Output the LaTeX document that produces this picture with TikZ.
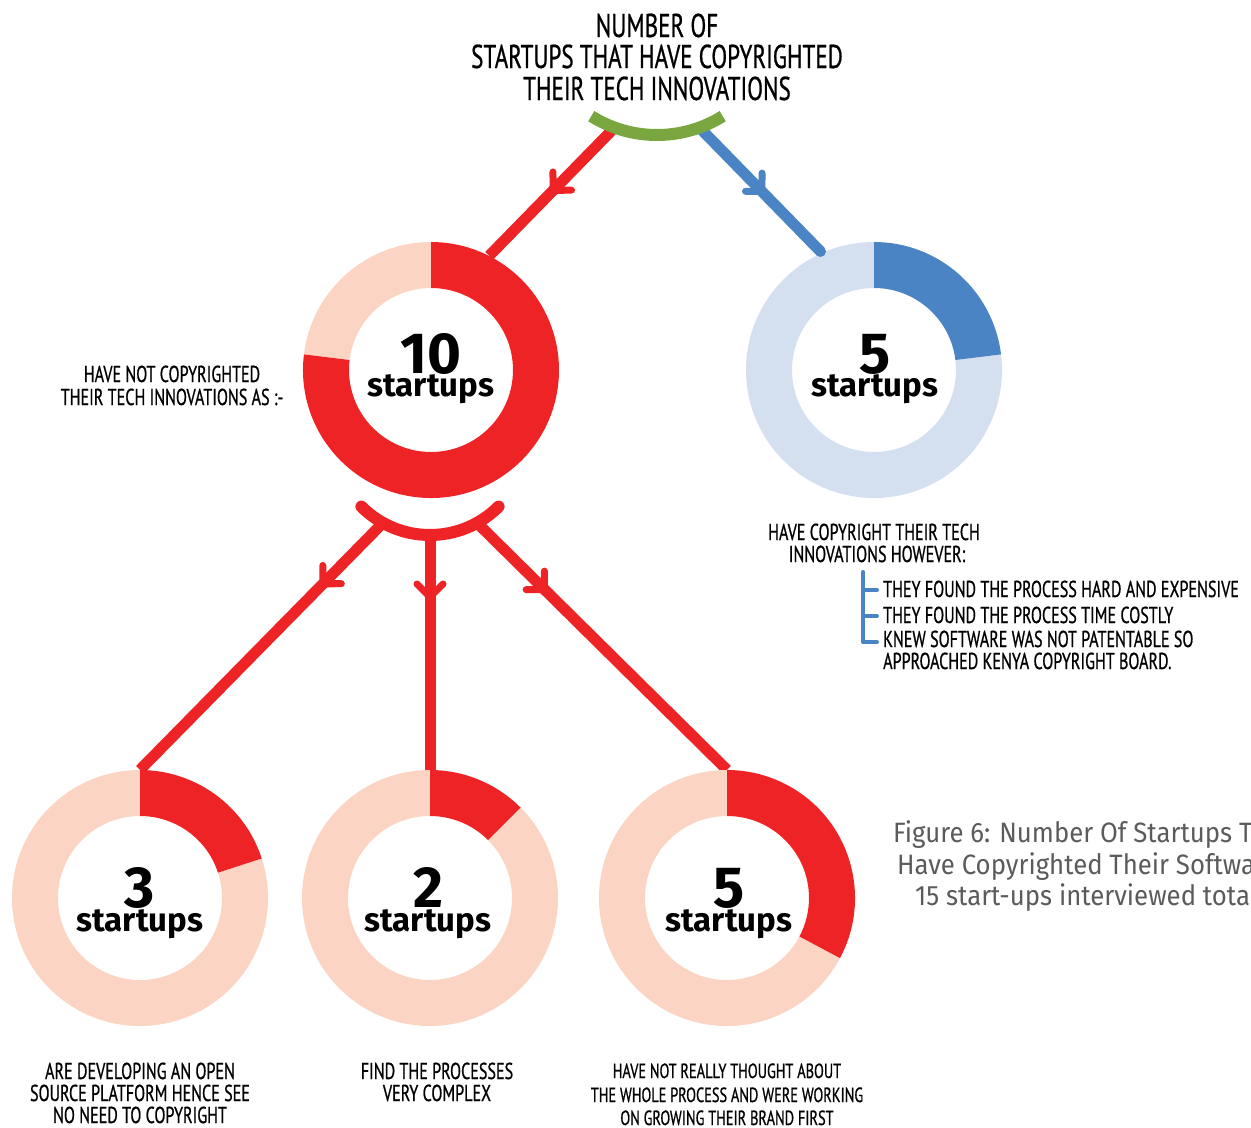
\documentclass[tikz,border=0pt]{standalone}
\usepackage{fontspec}
\usetikzlibrary{decorations.markings}
\setmainfont{PT Sans}
\newfontfamily\condfont[FakeStretch=0.70, FakeBold=0.7]{PT Sans}
\newfontfamily\numfont{Fira Sans}
\newfontfamily\captfont[FakeStretch=0.92]{Fira Sans}
\definecolor{ired}{HTML}{EE2326}
\definecolor{isalmon}{HTML}{FBD4C3}
\definecolor{iblue}{HTML}{4A84C4}
\definecolor{ilblue}{HTML}{D4DFF0}
\definecolor{igreen}{HTML}{7AA640}
\definecolor{igray}{HTML}{5A5B5D}

% annular sector: node, start angle, end angle, colour
\newcommand\ringpart[4]{\fill[#4, shift={(#1.center)}] (#2:128) arc[start angle=#2, end angle=#3, radius=128] -- (#3:82) arc[start angle=#3, end angle=#2, radius=82] -- cycle;}

\tikzset{
  ring/.style={circle, minimum size=256bp, inner sep=0pt},
  link/.style={line width=11bp},
  midtick/.style n args={2}{postaction={decorate, decoration={markings, mark=at position #1 with {\draw[#2, line width=7bp, line cap=round, line join=round] (-13,13) -- (0,0) -- (-13,-13);}}}},
  headline/.style={font=\condfont\fontsize{33bp}{33bp}\selectfont, inner sep=0pt, anchor=base},
  lbl/.style={font=\condfont\fontsize{23bp}{23bp}\selectfont, inner sep=0pt, anchor=base},
  smlbl/.style={font=\condfont\fontsize{20.5bp}{20.5bp}\selectfont, inner sep=0pt, anchor=base},
  bigno/.style={font=\numfont\bfseries\fontsize{58bp}{58bp}\selectfont, inner sep=0pt, anchor=base},
  unitword/.style={font=\numfont\bfseries\fontsize{33bp}{33bp}\selectfont, inner sep=0pt, anchor=base},
  capt/.style={font=\captfont\fontsize{28bp}{28bp}\selectfont, text=igray, inner sep=0pt, anchor=base west},
}

\begin{document}
\begin{tikzpicture}[x=1bp,y=1bp]
\useasboundingbox (0,0) rectangle (1251,-1128);

% donut placeholders
\node[ring] (c1) at (431,-370) {};
\node[ring] (c2) at (874,-370) {};
\node[ring] (cA) at (140,-898) {};
\node[ring] (cB) at (430,-898) {};
\node[ring] (cC) at (727,-898) {};

% centres of the two connector arcs
\coordinate (g0) at (657,-11);
\coordinate (h0) at (430,-438);
\path (g0) ++(-110:124) coordinate (gr);
\path (g0) ++(-70:124) coordinate (gb);
\path (h0) ++(-119:97) coordinate (hl);
\path (h0) ++(-90:97) coordinate (hm);
\path (h0) ++(-61:97) coordinate (hr);

% red connectors
\draw[link, ired, midtick={0.49}{ired}] (gr) -- (c1.63);
\draw[link, ired, midtick={0.247}{ired}] (hl) -- (cA.90);
\draw[link, ired, midtick={0.264}{ired}] (hm) -- (cB.90);
\draw[link, ired, midtick={0.27}{ired}] (hr) -- (cC.90);

% donuts
\ringpart{c1}{90}{173}{isalmon}
\ringpart{c1}{-187}{90}{ired}
\ringpart{c2}{90}{367}{ilblue}
\ringpart{c2}{7}{90}{iblue}
\ringpart{cA}{90}{378}{isalmon}
\ringpart{cA}{18}{90}{ired}
\ringpart{cB}{90}{405}{isalmon}
\ringpart{cB}{45}{90}{ired}
\ringpart{cC}{90}{332}{isalmon}
\ringpart{cC}{-28}{90}{ired}

% blue connector
\draw[link, iblue, line cap=round, shorten >=2bp, midtick={0.51}{iblue}] (gb) -- (c2.114);

% arcs
\draw[igreen, line width=12bp] (g0) ++(-122:124) arc[start angle=-122, end angle=-58, radius=124];
\draw[ired, line width=12bp, line cap=round] (h0) ++(-135:97) arc[start angle=-135, end angle=-45, radius=97];

% bracket
\draw[iblue, line width=4bp, line cap=round, line join=round] (863,-572) -- (863,-642) -- (877,-642);
\draw[iblue, line width=4bp, line cap=round] (863,-590) -- (877,-590);
\draw[iblue, line width=4bp, line cap=round] (863,-616) -- (877,-616);

% headline
\node[headline] (t1) at (657,-37) {NUMBER OF};
\node[headline] (t2) at (657,-68) {STARTUPS THAT HAVE COPYRIGHTED};
\node[headline] (t3) at (657,-100) {THEIR TECH INNOVATIONS};

% counts
\node[bigno] (n1) at (431,-373) {10};
\node[unitword] (u1) at (431,-396) {startups};
\node[bigno] (n2) at (875,-373) {5};
\node[unitword] (u2) at (875,-396) {startups};
\node[bigno] (nA) at (140,-907) {3};
\node[unitword] (uA) at (140,-931) {startups};
\node[bigno] (nB) at (428,-907) {2};
\node[unitword] (uB) at (428,-931) {startups};
\node[bigno] (nC) at (729,-907) {5};
\node[unitword] (uC) at (729,-931) {startups};

% side labels
\node[lbl] (l1) at (172,-382) {HAVE NOT COPYRIGHTED};
\node[lbl] (l2) at (172,-405) {THEIR TECH INNOVATIONS AS :-};
\node[lbl] (b1) at (874,-540) {HAVE COPYRIGHT THEIR TECH};
\node[lbl] (b2) at (877,-562) {INNOVATIONS HOWEVER:};
\node[lbl, anchor=base west] (r1) at (883,-597) {THEY FOUND THE PROCESS HARD AND EXPENSIVE};
\node[lbl, anchor=base west] (r2) at (883,-623) {THEY FOUND THE PROCESS TIME COSTLY};
\node[lbl, anchor=base west] (r3) at (883,-647) {KNEW SOFTWARE WAS NOT PATENTABLE SO};
\node[lbl, anchor=base west] (r4) at (883,-669) {APPROACHED KENYA COPYRIGHT BOARD.};

% bottom labels
\node[lbl] (a1) at (140,-1079) {ARE DEVELOPING AN OPEN};
\node[lbl] (a2) at (140,-1101) {SOURCE PLATFORM HENCE SEE};
\node[lbl] (a3) at (140,-1123) {NO NEED TO COPYRIGHT};
\node[lbl] (m1) at (437,-1079) {FIND THE PROCESSES};
\node[lbl] (m2) at (437,-1101) {VERY COMPLEX};
\node[smlbl] (s1) at (727,-1078) {HAVE NOT REALLY THOUGHT ABOUT};
\node[smlbl] (s2) at (727,-1102) {THE WHOLE PROCESS AND WERE WORKING};
\node[smlbl] (s3) at (727,-1125) {ON GROWING THEIR BRAND FIRST};

% caption
\begin{scope}
\clip (0,0) rectangle (1251,-1128);
\node[capt] (f1) at (893,-842) {Figure 6: Number Of Startups That};
\node[capt] (f2) at (897,-874) {Have Copyrighted Their Software};
\node[capt] (f3) at (915,-905) {15 start-ups interviewed total};
\end{scope}
\end{tikzpicture}
\end{document}
